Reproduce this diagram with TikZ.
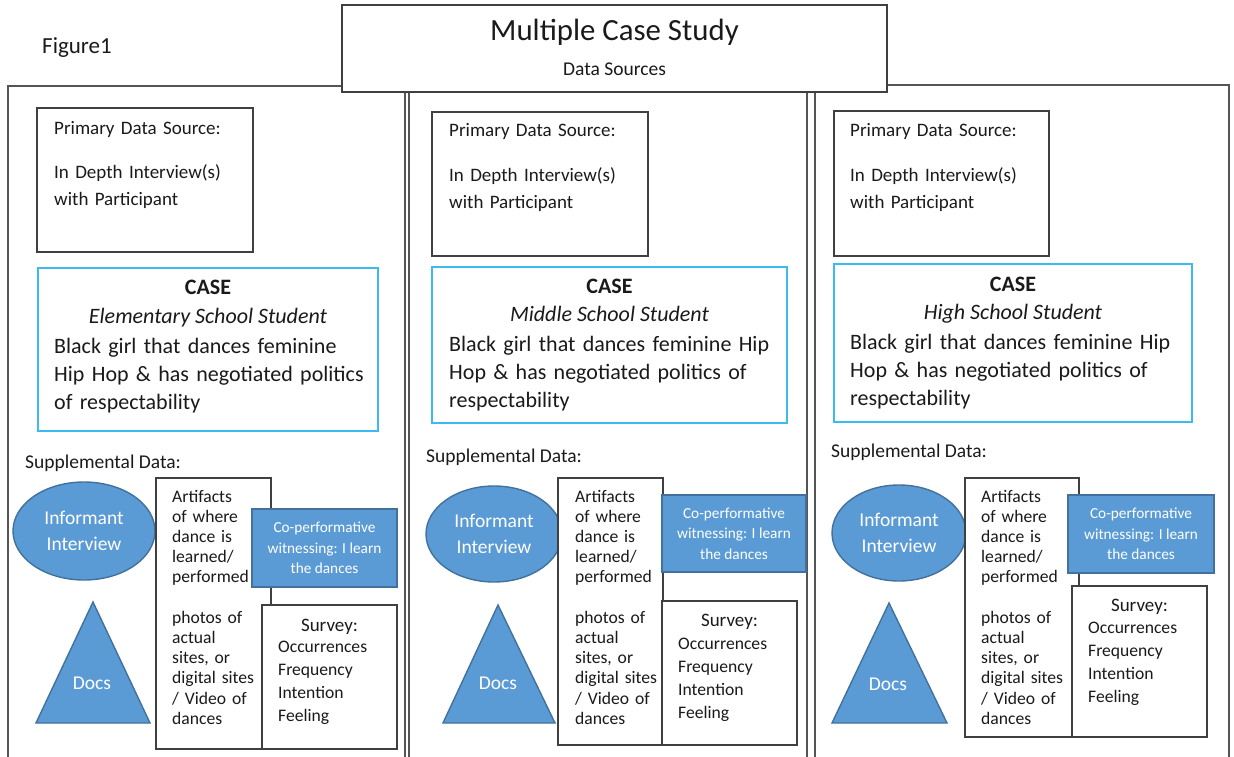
\documentclass[tikz,border=0pt]{standalone}
\usepackage{fontspec}
\setmainfont{Carlito}
\usetikzlibrary{shapes.geometric}
\definecolor{ink}{HTML}{1A1A1A}
\definecolor{framec}{HTML}{555555}
\definecolor{boxline}{HTML}{404040}
\definecolor{bluef}{HTML}{5B9BD5}
\definecolor{blued}{HTML}{41719C}
\definecolor{cyanline}{HTML}{3DBBF0}
\newcommand\myfs[2]{\fontsize{#1}{#2}\selectfont}
\begin{document}
\begin{tikzpicture}[x=1pt,y=-1pt,
  colframe/.style={draw=framec,line width=1.4pt},
  box/.style={draw=boxline,line width=1.2pt,fill=white},
  casebox/.style={draw=cyanline,line width=1.3pt,fill=white},
  bluebox/.style={draw=blued,line width=1.4pt,fill=bluef},
  txt/.style={inner sep=0pt,text=ink,anchor=base west,align=left},
  primtxt/.style={txt,text width=210pt,font=\myfs{19}{27}},
  casehead/.style={inner sep=0pt,text=ink,anchor=base,font=\myfs{22}{28}\bfseries},
  caseit/.style={inner sep=0pt,text=ink,anchor=base,font=\myfs{22}{28}\itshape},
  casebody/.style={txt,text width=360pt,font=\myfs{22}{28.3}},
  supp/.style={txt,font=\myfs{19.5}{24}},
  ell/.style={ellipse,bluebox,inner sep=0pt,text=white,align=center,font=\myfs{19.5}{26}},
  wtxt/.style={inner sep=0pt,text=white,align=center,font=\myfs{19.5}{26}},
  bluerect/.style={rectangle,bluebox,inner sep=0pt,text=white,align=center,font=\myfs{15.3}{20.5}},
  arttxt/.style={txt,text width=110pt,font=\myfs{17.6}{20.2}},
  survhead/.style={inner sep=0pt,text=ink,anchor=base,font=\myfs{19}{23}},
  survtxt/.style={txt,text width=120pt,font=\myfs{17.6}{23.2}}]
\useasboundingbox (0,0) rectangle (1234,757);
\clip (0,0) rectangle (1234,757);

\node[txt,font=\myfs{23}{26}] (fig) at (42,54) {Figure1};

% ---------- column 1 ----------
\draw[colframe] (8,86) rectangle (405,800);
\draw[box] (37,108) rectangle (253,252);
\node[primtxt] (p1) at (54,135) {Primary Data Source:\\[17pt]In Depth Interview(s)\\with Participant};
\draw[casebox] (38,268) rectangle (378,431);
\node[casehead] (ch1) at (208,294) {CASE};
\node[caseit] (ci1) at (208,323) {Elementary School Student};
\node[casebody] (cb1) at (54,353) {Black girl that dances feminine\\Hip Hop \& has negotiated politics\\of respectability};
\node[supp] (s1) at (25,468) {Supplemental Data:};
\node[ell,minimum width=142pt,minimum height=98pt] (e1) at (84,531) {Informant\\Interview};
\draw[bluebox] (93,602) -- (150,723) -- (36,723) -- cycle;
\node[wtxt] (d1) at (92,683) {Docs};
\draw[box] (156,478) rectangle (271,749);
\node[arttxt] (a1) at (172,502) {Artifacts\\of where\\dance is\\learned/\\performed\\[20.2pt]photos of\\actual\\sites, or\\digital sites\\/ Video of\\dances};
\node[bluerect,minimum width=145pt,minimum height=78pt] (c1) at (324.5,548) {Co-performative\\witnessing: I learn\\the dances};
\draw[box] (262,605) rectangle (397,749);
\node[survhead] (sh1) at (329.5,631) {Survey:};
\node[survtxt] (st1) at (278,652) {Occurrences\\Frequency\\Intention\\Feeling};

% ---------- column 2 ----------
\draw[colframe] (409,86) rectangle (807,800);
\draw[box] (432,112) rectangle (648,256);
\node[primtxt] (p2) at (449,137) {Primary Data Source:\\[17pt]In Depth Interview(s)\\with Participant};
\draw[casebox] (432,267) rectangle (787,423);
\node[casehead] (ch2) at (609.5,293) {CASE};
\node[caseit] (ci2) at (609.5,321) {Middle School Student};
\node[casebody] (cb2) at (449,351) {Black girl that dances feminine Hip\\Hop \& has negotiated politics of\\respectability};
\node[supp] (s2) at (426,462) {Supplemental Data:};
\node[ell,minimum width=136pt,minimum height=96pt] (e2) at (494,534) {Informant\\Interview};
\draw[bluebox] (498,605) -- (555,723) -- (443,723) -- cycle;
\node[wtxt] (d2) at (498,683) {Docs};
\draw[box] (558,478) rectangle (663,745);
\node[arttxt] (a2) at (575,502) {Artifacts\\of where\\dance is\\learned/\\performed\\[20.2pt]photos of\\actual\\sites, or\\digital sites\\/ Video of\\dances};
\node[bluerect,minimum width=144pt,minimum height=77pt] (c2) at (734,533.5) {Co-performative\\witnessing: I learn\\the dances};
\draw[box] (662,601) rectangle (797,745);
\node[survhead] (sh2) at (729.5,626) {Survey:};
\node[survtxt] (st2) at (678,649) {Occurrences\\Frequency\\Intention\\Feeling};

% ---------- column 3 ----------
\draw[colframe] (815,85) rectangle (1229,800);
\draw[box] (834,111) rectangle (1049,256);
\node[primtxt] (p3) at (850,137) {Primary Data Source:\\[17pt]In Depth Interview(s)\\with Participant};
\draw[casebox] (834,264) rectangle (1192,422);
\node[casehead] (ch3) at (1013,291) {CASE};
\node[caseit] (ci3) at (1013,319) {High School Student};
\node[casebody] (cb3) at (850,349) {Black girl that dances feminine Hip\\Hop \& has negotiated politics of\\respectability};
\node[supp] (s3) at (831,457) {Supplemental Data:};
\node[ell,minimum width=134pt,minimum height=96pt] (e3) at (899,533) {Informant\\Interview};
\draw[bluebox] (889,603) -- (947,723) -- (832,723) -- cycle;
\node[wtxt] (d3) at (888,684) {Docs};
\draw[box] (965,478) rectangle (1079,737);
\node[arttxt] (a3) at (981,502) {Artifacts\\of where\\dance is\\learned/\\performed\\[20.2pt]photos of\\actual\\sites, or\\digital sites\\/ Video of\\dances};
\node[bluerect,minimum width=146pt,minimum height=78pt] (c3) at (1141,534) {Co-performative\\witnessing: I learn\\the dances};
\draw[box] (1072,586) rectangle (1207,737);
\node[survhead] (sh3) at (1139.5,611) {Survey:};
\node[survtxt] (st3) at (1088,633) {Occurrences\\Frequency\\Intention\\Feeling};

% ---------- title ----------
\draw[box] (342,5) rectangle (887,92);
\node[inner sep=0pt,text=ink,anchor=base,font=\myfs{30.8}{34}] (title) at (614.5,41) {Multiple Case Study};
\node[inner sep=0pt,text=ink,anchor=base,font=\myfs{19.5}{24}] (sub) at (614.5,76) {Data Sources};
\end{tikzpicture}
\end{document}
